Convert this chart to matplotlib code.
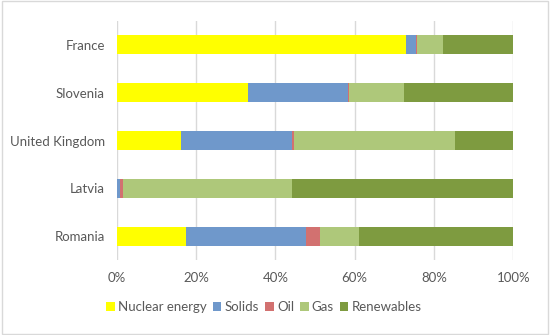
import matplotlib.pyplot as plt
import numpy as np
from matplotlib.patches import Rectangle

countries = ["France", "Slovenia", "United Kingdom", "Latvia", "Romania"]
sources = ["Nuclear energy", "Solids", "Oil", "Gas", "Renewables"]
nuclear = [72.9, 33.1, 16.2, 0.0, 17.5]
solids = [2.5, 25.3, 28.1, 0.75, 30.2]
oil = [0.2, 0.05, 0.3, 0.75, 3.6]
gas = [6.7, 14.05, 40.8, 42.7, 9.8]
renewables = [17.7, 27.5, 14.6, 55.8, 38.9]
colors = ["#FFFF00", "#6F98CB", "#D27170", "#AEC87A", "#7E9B40"]

plt.rcParams["font.family"] = ["Lato", "DejaVu Sans"]
text_color = "#595959"

fig = plt.figure(figsize=(5.5, 3.35), dpi=100)
ax = fig.add_axes([116.7 / 550, 1 - 260 / 335, 396.6 / 550, 239 / 335])

y = np.arange(len(countries))
left = np.zeros(len(countries))
for name, values, color in zip(sources, [nuclear, solids, oil, gas, renewables], colors):
    ax.barh(y, values, left=left, height=0.4, color=color, label=name, zorder=3)
    left += np.array(values)

ax.set_ylim(len(countries) - 0.5, -0.5)
ax.set_xlim(0, 100)
ax.set_xticks(np.arange(0, 101, 20))
ax.set_xticklabels([f"{v}%" for v in range(0, 101, 20)])
ax.set_yticks(y)
ax.set_yticklabels(countries)
ax.tick_params(length=0, labelsize=9.5, colors=text_color, pad=9)
ax.tick_params(axis="y", pad=8.5)
ax.grid(axis="x", color="#D9D9D9", linewidth=1, zorder=0)
for spine in ax.spines.values():
    spine.set_visible(False)

fig.legend(loc="center", bbox_to_anchor=(264 / 550, 1 - 307 / 335), ncol=5,
           frameon=False, fontsize=9.5, labelcolor=text_color,
           handlelength=0.65, handleheight=0.65, handletextpad=0.25, columnspacing=0.45)

fig.patches.append(Rectangle((0.004, 0.004), 0.992, 0.992, transform=fig.transFigure,
                             fill=False, edgecolor="#D9D9D9", linewidth=1))

fig.savefig("out.png", dpi=100)
